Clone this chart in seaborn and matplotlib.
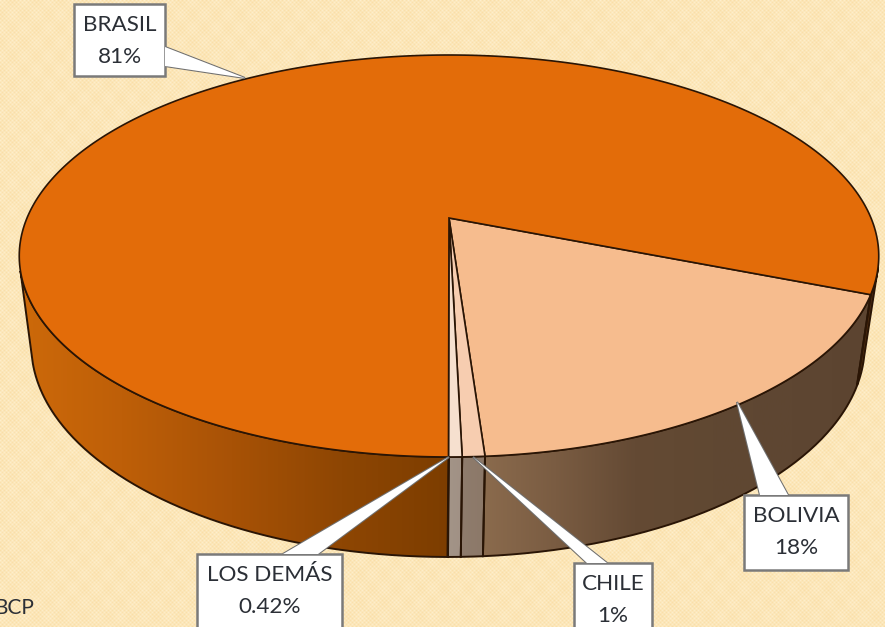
import numpy as np
import matplotlib.pyplot as plt
import seaborn as sns
from matplotlib.patches import Polygon, PathPatch
from matplotlib.path import Path

# participacion por pais, en sentido horario desde las 12 del lado de la cara frontal
paises = ["BOLIVIA", "CHILE", "LOS DEMÁS", "BRASIL"]
valores = [17.9, 0.7, 0.42, 81.0]
etiquetas = ["18%", "1%", "0.42%", "81%"]

colores_cara = ["#F6BC8E", "#F7CDB0", "#F6E0CF", "#E36C09"]
W, H = 885, 627

# geometria del disco en pixeles de la imagen
APEX = (449, 218)
A, B, K = 422, 193.8, 0.189
XC, YC, RX, RY = 449, 256, 430, 201
XC2, YC2, RX2, RY2 = 448, 345, 417, 212
INICIO = 21.6


def borde(theta):
    # punto del borde superior para un angulo del disco (perspectiva simple)
    u, v = np.cos(np.radians(theta)), np.sin(np.radians(theta))
    return APEX[0] + A * u / (1 - K * v), APEX[1] + B * v / (1 - K * v)


def borde_inferior(theta):
    x, y = borde(theta)
    cx, cy = (x - XC) / RX, (y - YC) / RY
    return XC2 + RX2 * cx, YC2 + RY2 * cy


def fondo():
    yy, xx = np.mgrid[0:H, 0:W]
    puntos = (np.cos(xx * np.pi / 2) * np.cos(yy * np.pi / 2) + 1) / 2
    malla = (np.cos(xx * 2 * np.pi / 24) * np.cos(yy * 2 * np.pi / 28) + 1) / 2
    t = 0.6 * puntos + 0.18 * malla
    base, claro = np.array([250, 222, 166]), np.array([255, 244, 216])
    return (base + (claro - base) * t[..., None]).astype(np.uint8)


def lado(theta, cmap, x0, x1):
    # pared lateral de un sector con degradado horizontal
    xa, ya = borde(theta)
    xb, yb = borde_inferior(theta)
    verts = np.vstack([np.column_stack([xa, ya]), np.column_stack([xb, yb])[::-1]])
    parche = PathPatch(Path(np.vstack([verts, verts[0]])), fc="none", ec="#2A1505", lw=1.4, zorder=3)
    ax.add_patch(parche)
    grad = np.linspace(0, 1, 256)[None, :]
    im = ax.imshow(grad, cmap=cmap, extent=(x0, x1, H, 0), aspect="auto", zorder=2)
    im.set_clip_path(parche)


def callout(caja, punta, base, texto, valor):
    x0, y0, x1, y1 = caja
    ax.add_patch(Polygon([punta, base[0], base[1]], fc="white", ec="#6F6F6F", lw=1.5, zorder=5, joinstyle="miter"))
    ax.add_patch(Polygon([(x0, y0), (x1, y0), (x1, y1), (x0, y1)], fc="white", ec="#7A7A7A", lw=1.8, zorder=6))
    ax.add_patch(Polygon([punta, base[0], base[1]], fc="white", ec="none", zorder=7))
    cx = (x0 + x1) / 2
    ax.text(cx, y0 + 21, texto, ha="center", va="center", fontsize=16.2, color="#2B2F36", zorder=8)
    ax.text(cx, y0 + 53, valor, ha="center", va="center", fontsize=16.2, color="#2B2F36", zorder=8)


sns.set_theme(style="white")
plt.rcParams["font.family"] = ["Lato", "DejaVu Sans"]

fig = plt.figure(figsize=(W / 100, H / 100), dpi=100)
ax = fig.add_axes([0, 0, 1, 1])
ax.imshow(fondo(), extent=(0, W, H, 0), aspect="auto", zorder=0)

# angulos de cada sector a partir de los valores
total = sum(valores)
angulos = np.array(valores) / total * 360
cortes = INICIO + np.concatenate([[0], np.cumsum(angulos)])

gradientes = [
    sns.blend_palette(["#8C6C4E", "#7A5C42", "#644A34", "#604832", "#5E4632", "#5C4430"], as_cmap=True),
    sns.blend_palette(["#8F7D6E", "#8C7868"], as_cmap=True),
    sns.blend_palette(["#A49689", "#A09084"], as_cmap=True),
    sns.blend_palette(["#CE6A0A", "#BE5F08", "#A85206", "#8E4603", "#7C3D00"], as_cmap=True),
]
# el degradado se pasa un poco de cada sector, el recorte lo ajusta
limites = [(476, 872), (455, 488), (442, 465), (12, 452)]

# paredes laterales: solo la mitad de adelante se ve
for i in range(3):
    th = np.linspace(cortes[i], cortes[i + 1], 120)
    lado(th, gradientes[i], *limites[i])
# Brasil se ve por la izquierda y en una franja a la derecha
lado(np.linspace(90, 165, 200), gradientes[3], *limites[3])
lado(np.linspace(14, INICIO, 60), sns.blend_palette(["#4A2A10", "#4A2A10"], as_cmap=True), 850, 885)

# cara superior
for i, color in enumerate(colores_cara):
    th = np.linspace(cortes[i], cortes[i + 1], max(int(angulos[i] * 3), 8))
    x, y = borde(th)
    verts = np.vstack([[APEX], np.column_stack([x, y])])
    ax.add_patch(Polygon(verts, fc=color, ec="#2A1505", lw=1.2, zorder=4))

callout((74, 4, 165, 76), (245, 78), [(165, 47), (165, 66)], paises[3], etiquetas[3])
callout((744, 495, 848, 570), (737, 402), [(760, 495), (788, 495)], paises[0], etiquetas[0])
callout((197, 554, 342, 640), (449, 457), [(283, 554), (318, 554)], paises[2], etiquetas[2])
callout((574, 563, 652, 640), (473, 457), [(587, 563), (607, 563)], paises[1], etiquetas[1])

ax.text(-6, 608, "BCP", ha="left", va="center", fontsize=15, color="#2B2F36", zorder=8)

ax.set_xlim(0, W)
ax.set_ylim(H, 0)
ax.axis("off")
fig.savefig("out.png", dpi=100)
